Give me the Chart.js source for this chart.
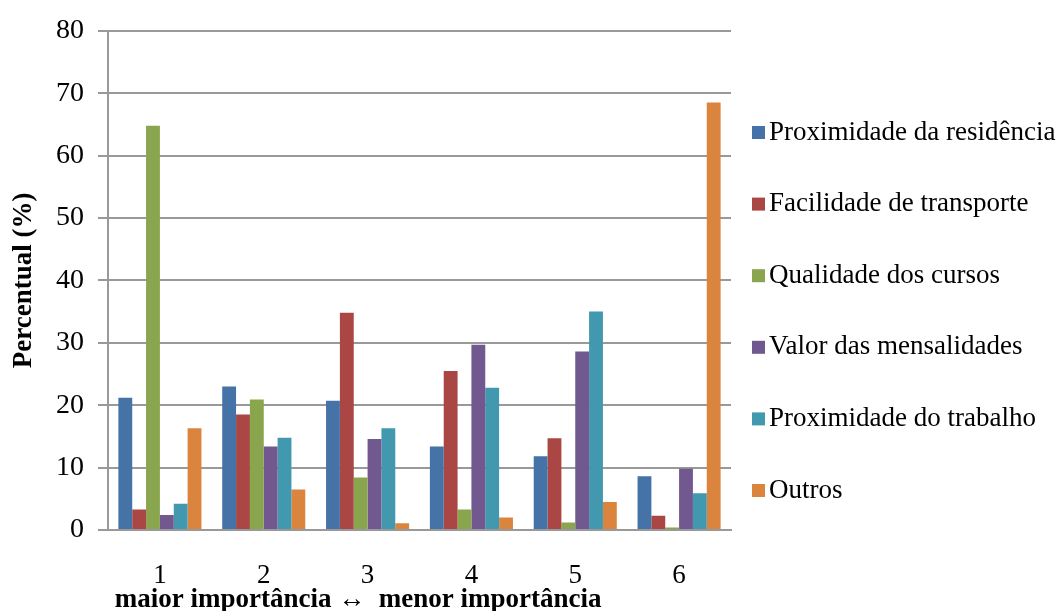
<!DOCTYPE html>
<html>
<head>
<meta charset="utf-8">
<script src="https://cdn.jsdelivr.net/npm/chart.js@4.4.1/dist/chart.umd.min.js"></script>
<style>
    html, body { margin: 0; padding: 0; background: #ffffff; overflow: hidden; }
    #caixa { width: 1057px; height: 611px; position: relative; }
</style>
</head>
<body>
<div id="caixa"><canvas id="grafico"></canvas></div>
<script>
// categorias (1 = maior importância ... 6 = menor importância)
var categorias = ["1", "2", "3", "4", "5", "6"];

var proximidadeResidencia = [21.2, 23.0, 20.7, 13.4, 11.8, 8.6];
var facilidadeTransporte  = [3.3, 18.5, 34.8, 25.5, 14.7, 2.3];
var qualidadeCursos       = [64.8, 20.9, 8.4, 3.3, 1.2, 0.4];
var valorMensalidades     = [2.4, 13.4, 14.6, 29.7, 28.6, 9.8];
var proximidadeTrabalho   = [4.2, 14.8, 16.3, 22.8, 35.0, 5.9];
var outros                = [16.3, 6.5, 1.1, 2.0, 4.5, 68.5];

var nomesSeries = ["Proximidade da residência", "Facilidade de transporte", "Qualidade dos cursos",
                   "Valor das mensalidades", "Proximidade do trabalho", "Outros"];
var cores = ["#4572A7", "#AA4643", "#89A54E", "#71588F", "#4198AF", "#DB843D"];

var fonte = "'Liberation Serif', 'Times New Roman', serif";

// legenda desenhada a mão (posição igual à do original)
var legendaLateral = {
    id: 'legendaLateral',
    afterDraw: function(chart) {
        var ctx = chart.ctx;
        ctx.save();
        ctx.font = "27px " + fonte;
        ctx.textBaseline = "middle";
        ctx.textAlign = "left";
        chart.data.datasets.forEach(function(ds, i) {
            var y = 132.5 + i * 71.6;
            ctx.fillStyle = ds.backgroundColor;
            ctx.fillRect(752, y - 6.5, 13, 13);
            ctx.fillStyle = "#000000";
            ctx.fillText(ds.label, 769, y);
        });
        ctx.restore();
    }
};

var dados = [proximidadeResidencia, facilidadeTransporte, qualidadeCursos,
             valorMensalidades, proximidadeTrabalho, outros];

var ctx = document.getElementById("grafico").getContext("2d");
var grafico = new Chart(ctx, {
    type: 'bar',
    data: {
        labels: categorias,
        datasets: dados.map(function(valores, i) {
            return {
                label: nomesSeries[i],
                data: valores,
                backgroundColor: cores[i],
                borderWidth: 0,
                categoryPercentage: 0.8,
                barPercentage: 1.0
            };
        })
    },
    options: {
        responsive: true,
        maintainAspectRatio: false,
        animation: false,
        layout: {
            padding: { top: 0, right: 326, bottom: 0, left: 0 }
        },
        scales: {
            x: {
                grid: { display: false },
                border: { display: true, color: '#999999', width: 2 },
                ticks: {
                    color: '#000000',
                    padding: 24,
                    font: { size: 27, family: fonte, lineHeight: 1 }
                },
                title: {
                    display: true,
                    align: 'start',
                    text: "\u00a0maior importância \u2194  menor importância",
                    color: '#000000',
                    padding: 0,
                    font: { size: 27, family: fonte, weight: 'bold', lineHeight: 0.8 }
                },
                afterFit: function(scale) { scale.height = 81; }
            },
            y: {
                min: 0,
                max: 80,
                beginAtZero: true,
                grid: {
                    color: '#999999',
                    lineWidth: 2,
                    drawTicks: true,
                    tickLength: 10,
                    tickColor: '#999999'
                },
                border: { display: true, color: '#999999', width: 2 },
                ticks: {
                    stepSize: 10,
                    color: '#000000',
                    padding: 14,
                    font: { size: 28, family: fonte }
                },
                title: {
                    display: true,
                    text: "Percentual (%)",
                    color: '#000000',
                    padding: { top: 8, bottom: 0 },
                    font: { size: 27, family: fonte, weight: 'bold' }
                },
                afterFit: function(scale) { scale.width = 108; }
            }
        },
        plugins: {
            legend: { display: false },
            tooltip: { enabled: false }
        }
    },
    plugins: [legendaLateral]
});
</script>
</body>
</html>
